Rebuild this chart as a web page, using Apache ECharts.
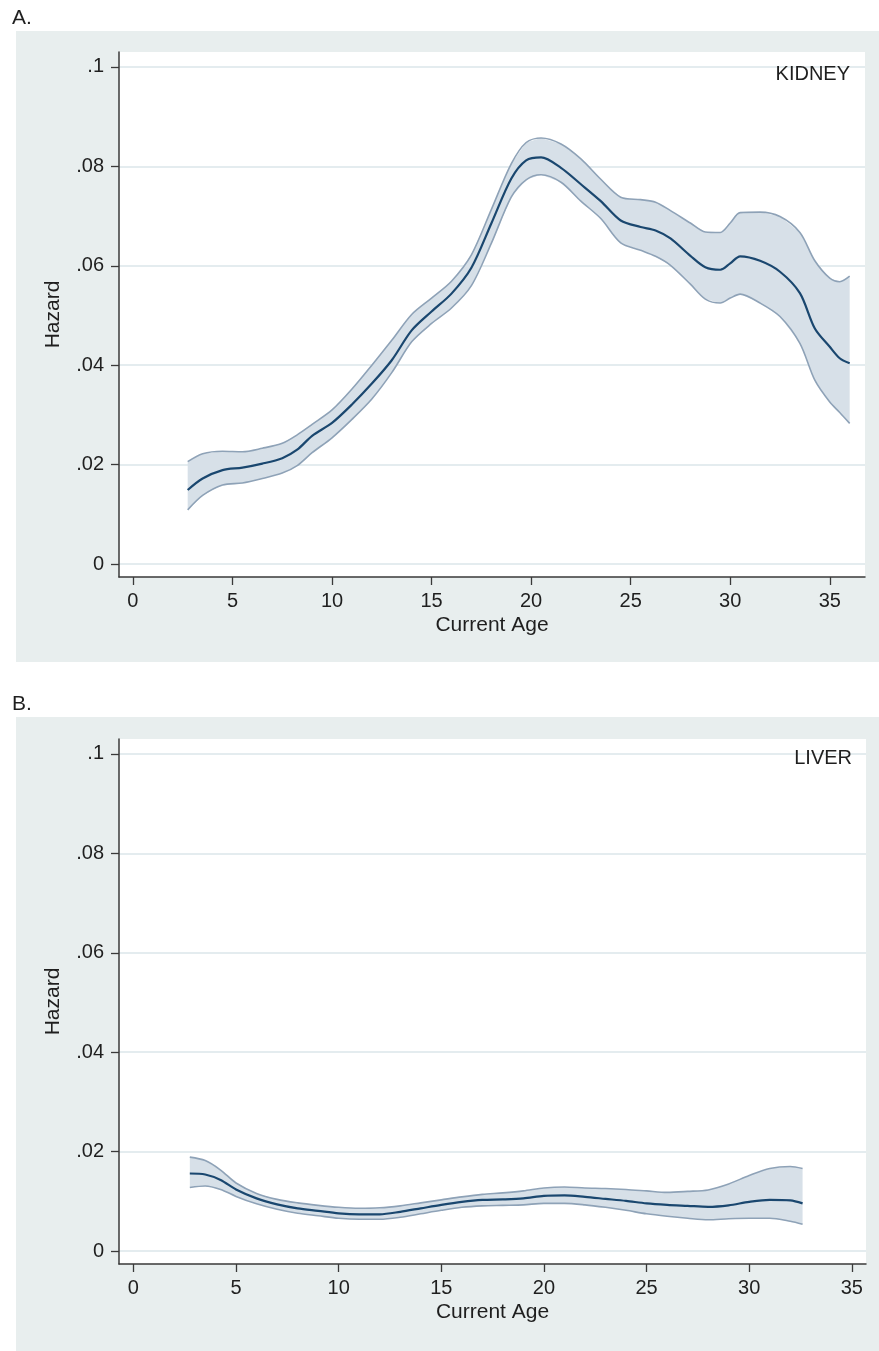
<!DOCTYPE html>
<html>
<head>
<meta charset="utf-8">
<script src="https://cdn.jsdelivr.net/npm/echarts@6/dist/echarts.min.js"></script>
<style>
  html, body { margin: 0; padding: 0; background: #ffffff; }
  #chart { width: 879px; height: 1351px; }
</style>
</head>
<body>
<div id="chart"></div>
<script>
// Smoothed hazard of graft failure by current age, with 95% confidence band.

// Panel A: kidney
const kidneyAge    = [2.75, 3.5, 4.5, 5.5, 6.5, 7.5, 8.25, 9, 10, 11, 12, 13, 14, 15, 16, 17, 18, 19, 19.75, 20.5, 21.5, 22.5, 23.5, 24.5, 25.5, 26.25, 27, 28, 28.75, 29.5, 30, 30.5, 31.5, 32.5, 33.5, 34.25, 35, 35.5, 36];
const kidneyHazard = [0.0149, 0.0172, 0.0189, 0.0194, 0.0202, 0.0213, 0.0230, 0.0258, 0.0284, 0.0321, 0.0363, 0.0410, 0.0470, 0.0508, 0.0544, 0.0596, 0.0685, 0.0775, 0.0812, 0.0818, 0.0797, 0.0764, 0.0730, 0.0691, 0.0678, 0.0671, 0.0655, 0.0620, 0.0597, 0.0592, 0.0605, 0.0619, 0.0610, 0.0588, 0.0545, 0.0474, 0.0437, 0.0414, 0.0404];
const kidneyLower  = [0.0109, 0.0138, 0.0159, 0.0163, 0.0172, 0.0183, 0.0198, 0.0224, 0.0254, 0.0291, 0.0332, 0.0385, 0.0447, 0.0484, 0.0515, 0.0560, 0.0645, 0.0738, 0.0773, 0.0783, 0.0768, 0.0730, 0.0695, 0.0646, 0.0631, 0.0619, 0.0601, 0.0563, 0.0533, 0.0525, 0.0535, 0.0543, 0.0525, 0.0498, 0.0444, 0.0370, 0.0326, 0.0305, 0.0283];
const kidneyUpper  = [0.0206, 0.0222, 0.0227, 0.0226, 0.0233, 0.0243, 0.0260, 0.0281, 0.0310, 0.0352, 0.0400, 0.0450, 0.0502, 0.0535, 0.0569, 0.0622, 0.0713, 0.0805, 0.0848, 0.0857, 0.0845, 0.0815, 0.0774, 0.0738, 0.0733, 0.0728, 0.0711, 0.0686, 0.0668, 0.0667, 0.0686, 0.0707, 0.0708, 0.0699, 0.0667, 0.0610, 0.0575, 0.0568, 0.0579];

// Panel B: liver
const liverAge    = [2.75, 3.5, 4.25, 5, 6, 7, 8, 9, 10, 11, 12, 13, 14, 15, 16, 17, 18, 19, 20, 21, 22, 23, 24, 25, 26, 27, 28, 29, 30, 31, 32, 32.6];
const liverHazard = [0.0156, 0.0154, 0.0143, 0.0124, 0.0106, 0.0094, 0.0086, 0.0081, 0.0076, 0.0074, 0.0074, 0.0079, 0.0086, 0.0093, 0.0099, 0.0103, 0.0104, 0.0106, 0.0111, 0.0112, 0.0109, 0.0105, 0.0101, 0.0096, 0.0093, 0.0091, 0.0089, 0.0092, 0.0099, 0.0103, 0.0102, 0.0096];
const liverLower  = [0.0128, 0.0131, 0.0124, 0.0110, 0.0095, 0.0084, 0.0076, 0.0071, 0.0066, 0.0064, 0.0064, 0.0068, 0.0075, 0.0082, 0.0088, 0.0091, 0.0092, 0.0093, 0.0096, 0.0096, 0.0093, 0.0088, 0.0082, 0.0075, 0.0070, 0.0066, 0.0063, 0.0065, 0.0066, 0.0066, 0.0060, 0.0054];
const liverUpper  = [0.0189, 0.0182, 0.0163, 0.0137, 0.0116, 0.0104, 0.0097, 0.0092, 0.0088, 0.0086, 0.0087, 0.0091, 0.0097, 0.0103, 0.0109, 0.0114, 0.0117, 0.0121, 0.0127, 0.0129, 0.0127, 0.0126, 0.0124, 0.0121, 0.0118, 0.0120, 0.0123, 0.0135, 0.0152, 0.0166, 0.0170, 0.0166];

// Axis tick labels
const ageTicks    = [0, 5, 10, 15, 20, 25, 30, 35];
const hazardTicks = [0, 0.02, 0.04, 0.06, 0.08, 0.1];

const panelTitles = ['A.', 'B.'];
const organNames  = ['KIDNEY', 'LIVER'];

const FONT = '"Liberation Sans", Arial, Helvetica, sans-serif';
const INK = '#1f1f1f';
const AXIS = '#3a3a3a';
const PANEL_BG = '#e8eeee';
const GRID_LINE = '#e4ecef';
const MEAN_COLOR = '#1a476f';
const BAND_EDGE = '#8ea2b7';
const BAND_FILL = '#d7e0e8';
const SMOOTH = 0.3;

const pair = (xs, ys) => xs.map((x, i) => [x, ys[i]]);
const rows = (xs, lo, hi) => xs.map((x, i) => [x, lo[i], hi[i]]);
const hazardLabel = v => (v === 0 ? '0' : String(v).replace(/^0/, ''));

function xAxisFor(idx, max) {
  return {
    type: 'value', gridIndex: idx, min: -0.7, max: max,
    name: 'Current Age', nameLocation: 'middle', nameGap: 38,
    nameTextStyle: { fontFamily: FONT, fontSize: 21, color: INK },
    axisLine: { show: true, onZero: false, lineStyle: { color: AXIS, width: 1.5 } },
    axisTick: { show: true, length: 8, customValues: ageTicks, lineStyle: { color: AXIS, width: 1.3 } },
    axisLabel: { customValues: ageTicks, margin: 14, fontFamily: FONT, fontSize: 20, color: INK },
    splitLine: { show: false }
  };
}

function yAxisFor(idx) {
  return {
    type: 'value', gridIndex: idx, min: -0.0026, max: 0.103, splitNumber: 5,
    name: 'Hazard', nameLocation: 'middle', nameGap: 55,
    nameTextStyle: { fontFamily: FONT, fontSize: 21, color: INK },
    axisLine: { show: true, onZero: false, lineStyle: { color: AXIS, width: 1.5 } },
    axisTick: { show: true, length: 8, customValues: hazardTicks, lineStyle: { color: AXIS, width: 1.3 } },
    axisLabel: { customValues: hazardTicks, margin: 15, formatter: hazardLabel, fontFamily: FONT, fontSize: 20, color: INK },
    splitLine: { show: true, lineStyle: { color: GRID_LINE, width: 2 } }
  };
}

// Confidence band: one filled polygon between the lower and upper bounds.
function renderBand(params, api) {
  if (params.dataIndexInside !== 0) return null;
  const n = params.dataInsideLength;
  const upper = [];
  const lower = [];
  for (let i = 0; i < n; i++) {
    const age = api.value(0, i);
    lower.push(api.coord([age, api.value(1, i)]));
    upper.push(api.coord([age, api.value(2, i)]));
  }
  return {
    type: 'polygon',
    shape: { points: upper.concat(lower.reverse()) },
    style: { fill: BAND_FILL, stroke: null }
  };
}

function panelSeries(idx, ages, mean, lower, upper) {
  const edge = { color: BAND_EDGE, width: 1.6 };
  return [
    {
      type: 'custom', xAxisIndex: idx, yAxisIndex: idx,
      renderItem: renderBand, data: rows(ages, lower, upper),
      encode: { x: 0, y: [1, 2] }, clip: true, z: 1, silent: true
    },
    {
      type: 'line', xAxisIndex: idx, yAxisIndex: idx,
      data: pair(ages, lower), symbol: 'none', smooth: SMOOTH,
      lineStyle: edge, z: 2, silent: true
    },
    {
      type: 'line', xAxisIndex: idx, yAxisIndex: idx,
      data: pair(ages, upper), symbol: 'none', smooth: SMOOTH,
      lineStyle: edge, z: 2, silent: true
    },
    {
      type: 'line', xAxisIndex: idx, yAxisIndex: idx,
      data: pair(ages, mean), symbol: 'none', smooth: SMOOTH,
      lineStyle: { color: MEAN_COLOR, width: 2.2 }, z: 3, silent: true
    }
  ];
}

const chart = echarts.init(document.getElementById('chart'), null, { renderer: 'canvas' });

const titleStyle = size => ({ fontFamily: FONT, fontSize: size, fontWeight: 'normal', color: INK });

chart.setOption({
  animation: false,
  backgroundColor: '#ffffff',
  title: [
    { text: panelTitles[0], left: 12, top: 8, padding: 0, textStyle: titleStyle(21) },
    { text: panelTitles[1], left: 12, top: 694, padding: 0, textStyle: titleStyle(21) },
    { text: organNames[0], right: 29, top: 64, padding: 0, textStyle: titleStyle(20) },
    { text: organNames[1], right: 27, top: 748, padding: 0, textStyle: titleStyle(20) }
  ],
  graphic: [
    { type: 'rect', z: -10, silent: true, shape: { x: 16, y: 31, width: 863, height: 631 }, style: { fill: PANEL_BG } },
    { type: 'rect', z: -10, silent: true, shape: { x: 16, y: 717, width: 863, height: 634 }, style: { fill: PANEL_BG } }
  ],
  grid: [
    { left: 119, top: 52, width: 746, height: 525, show: true, backgroundColor: '#ffffff', borderWidth: 0 },
    { left: 119, top: 739, width: 747, height: 525, show: true, backgroundColor: '#ffffff', borderWidth: 0 }
  ],
  xAxis: [xAxisFor(0, 36.77), xAxisFor(1, 35.69)],
  yAxis: [yAxisFor(0), yAxisFor(1)],
  series: [
    ...panelSeries(0, kidneyAge, kidneyHazard, kidneyLower, kidneyUpper),
    ...panelSeries(1, liverAge, liverHazard, liverLower, liverUpper)
  ]
});
</script>
</body>
</html>
